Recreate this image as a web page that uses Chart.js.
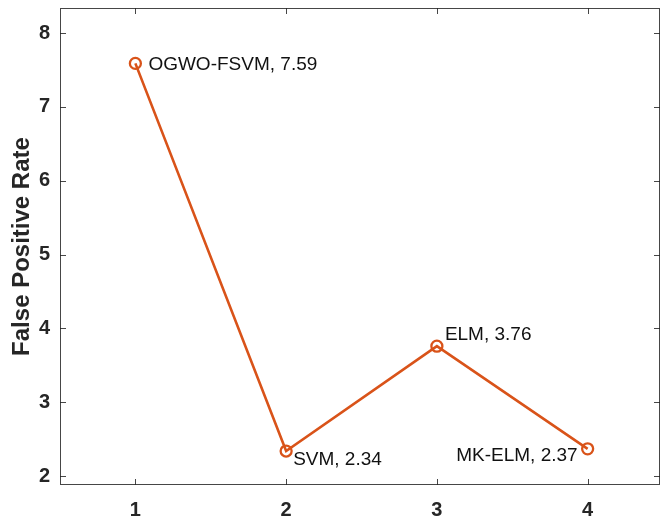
<!DOCTYPE html>
<html>
<head>
<meta charset="utf-8">
<script src="https://cdn.jsdelivr.net/npm/chart.js@4"></script>
<style>
html,body{margin:0;padding:0;background:#fff;}
#wrap{width:661px;height:520px;}
</style>
</head>
<body>
<div id="wrap"><canvas id="c" width="661" height="520"></canvas></div>
<script>
const xValues = [1, 2, 3, 4];
const fprValues = [7.59, 2.34, 3.76, 2.37];
const methodNames = ['OGWO-FSVM', 'SVM', 'ELM', 'MK-ELM'];
const xTicks = [1, 2, 3, 4];
const yTicks = [2, 3, 4, 5, 6, 7, 8];

const lineColor = '#D95319';
const axisColor = '#262626';
const FONT = '"Liberation Sans", Arial, Helvetica, sans-serif';

// label placement: [dx, dy, align]
const labelPlace = [
  [13, 1, 'left'],
  [7, 9, 'left'],
  [8, -11, 'left'],
  [-10, 7, 'right']
];

function zeroPad(s) { s.paddingLeft = 0; s.paddingRight = 0; s.paddingTop = 0; s.paddingBottom = 0; }

const boxPlugin = {
  id: 'boxTicks',
  afterDraw(chart) {
    const ctx = chart.ctx;
    const a = chart.chartArea;
    const xs = chart.scales.x, ys = chart.scales.y;
    ctx.save();
    ctx.strokeStyle = axisColor;
    ctx.lineWidth = 1;
    ctx.globalAlpha = 0.85;
    ctx.strokeRect(Math.round(a.left) + 0.5, Math.round(a.top) + 0.5,
      Math.round(a.right - a.left) - 1, Math.round(a.bottom - a.top) - 1);
    const L = 6;
    ctx.beginPath();
    xTicks.forEach(v => {
      const px = Math.round(xs.getPixelForValue(v)) + 0.5;
      ctx.moveTo(px, a.bottom); ctx.lineTo(px, a.bottom - L);
      ctx.moveTo(px, a.top); ctx.lineTo(px, a.top + L);
    });
    yTicks.forEach(v => {
      const py = Math.round(ys.getPixelForValue(v)) + 0.5;
      ctx.moveTo(a.left, py); ctx.lineTo(a.left + L, py);
      ctx.moveTo(a.right, py); ctx.lineTo(a.right - L, py);
    });
    ctx.stroke();
    ctx.globalAlpha = 1;
    // data labels
    ctx.fillStyle = '#111';
    ctx.font = '19px ' + FONT;
    ctx.textBaseline = 'middle';
    xValues.forEach((xv, i) => {
      const px = xs.getPixelForValue(xv);
      const py = ys.getPixelForValue(fprValues[i]);
      const p = labelPlace[i];
      ctx.textAlign = p[2];
      ctx.fillText(methodNames[i] + ', ' + fprValues[i].toFixed(2), px + p[0], py + p[1]);
    });
    ctx.restore();
  }
};

new Chart(document.getElementById('c'), {
  type: 'line',
  data: {
    datasets: [{
      data: xValues.map((x, i) => ({x: x, y: fprValues[i]})),
      borderColor: lineColor,
      backgroundColor: '#ffffff',
      borderWidth: 2.6,
      pointRadius: 5.5,
      pointBorderWidth: 2.3,
      pointBorderColor: lineColor,
      pointBackgroundColor: 'rgba(255,255,255,0)',
      tension: 0
    }]
  },
  options: {
    responsive: false,
    animation: false,
    devicePixelRatio: 1,
    layout: {autoPadding: false, padding: {top: 8, right: 1, left: 0, bottom: 0}},
    plugins: {legend: {display: false}, tooltip: {enabled: false}},
    scales: {
      x: {
        type: 'linear',
        min: 0.5, max: 4.48,
        afterBuildTicks: s => { s.ticks = xTicks.map(v => ({value: v})); },
        afterFit: s => { s.height = 35; zeroPad(s); },
        grid: {display: false, drawTicks: false},
        border: {display: false},
        ticks: {color: axisColor, padding: 13, font: {family: FONT, size: 20, weight: 'bold'}}
      },
      y: {
        type: 'linear',
        min: 1.88, max: 8.34,
        afterBuildTicks: s => { s.ticks = yTicks.map(v => ({value: v})); },
        afterFit: s => { s.width = 60; zeroPad(s); },
        grid: {display: false, drawTicks: false},
        border: {display: false},
        title: {display: true, text: 'False Positive Rate', color: axisColor,
          font: {family: FONT, size: 24, weight: 'bold'}, padding: {top: 8, bottom: 0}},
        ticks: {color: axisColor, padding: 10, font: {family: FONT, size: 20, weight: 'bold'}}
      }
    }
  },
  plugins: [boxPlugin]
});
</script>
</body>
</html>
